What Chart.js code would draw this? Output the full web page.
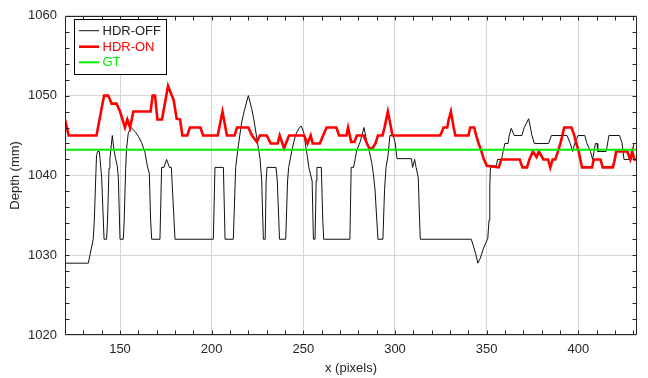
<!DOCTYPE html>
<html>
<head>
<meta charset="utf-8">
<script src="https://cdn.jsdelivr.net/npm/chart.js@4/dist/chart.umd.min.js"></script>
<style>
  html, body { margin: 0; padding: 0; background: #fff; }
  #wrap { width: 648px; height: 378px; position: relative; }
</style>
</head>
<body>
<div id="wrap"><canvas id="c"></canvas></div>
<script>
// ---- data ----
const seriesNames = ["HDR-OFF", "HDR-ON", "GT"];

const offX = [120,132.7,135.4,136,136.7,137.2,137.8,138.7,139.1,140,140.9,141.3,142.7,143.2,144,144.5,145.8,146.7,147.6,148.5,149.1,150,151.8,152.3,153.1,153.6,154.5,156,158.2,160,161.8,163.6,164.9,166,166.7,167.3,171.8,172.7,174,175.4,177,178,180,200.9,201.8,206.4,207.3,211.8,213.1,214.6,216.4,217.8,220,221.8,223,224.6,226.4,227.3,228.2,229.2,229.7,230.2,235.1,235.8,237,240.4,241.4,242,242.9,244.4,245.8,247.6,248.9,250.3,251.2,252.1,253,254.8,255.5,256.4,257,257.4,259.8,260.6,261.1,275.4,276.1,277.4,278.3,279.2,281,283.1,284.6,286,287.3,288.2,289.1,290.7,293.4,294.3,295.1,296.2,297.2,299,300.1,301.1,308.9,309.6,310.7,311.5,311.8,312.7,313.4,313.8,341.6,344,345.2,346.5,348.3,350.6,351.3,351.7,352,352.6,355.3,355.9,358.1,359,359.9,361.7,362.2,363.4,364.5,365,369.2,370.5,372.9,374.7,376,383.8,385.3,393.8,395.6,396.9,398,399.8,403.5,404.7,406.6,407.8,409.3,410.2,410.6,415.2,416.7,422.5,423.8,424.9,428.9,430.3,432];
const offY = [1029,1029,1032,1034.4,1039.3,1042.5,1043,1043,1042.1,1039.7,1034.4,1032,1032,1034.4,1040.9,1042.1,1045,1043.2,1042.1,1041.2,1039.7,1032,1032,1034.4,1040.9,1043.4,1045.3,1046,1045.5,1044.9,1044.1,1042.9,1041.2,1040.2,1034.4,1032,1032,1041,1041,1042,1041,1041,1032,1032,1041,1041,1032,1032,1041,1043.8,1046.7,1048.1,1050,1048.4,1047,1044.7,1042.1,1039.3,1032,1032,1039.3,1041,1041,1039.3,1032,1032,1039.3,1041,1042.1,1043.8,1045.1,1045.9,1046.2,1045.3,1043.8,1042.5,1041,1039.3,1032,1032,1039.3,1041,1041,1034.4,1032,1032,1041,1041,1042.1,1043.2,1044.2,1046,1044.2,1043,1041.6,1040.2,1038.2,1032,1032,1038.2,1041,1042.5,1045,1045,1044.1,1042.1,1042.1,1041,1042,1041,1041,1039.7,1034.4,1032,1032,1030.2,1029,1029.6,1030.9,1032.1,1034.4,1038.5,1040.8,1041.2,1041.2,1042,1042,1043,1044,1044,1044.9,1045.9,1045.3,1045,1045,1046,1047.1,1045,1044,1044,1045,1045,1044,1043,1044,1045,1045,1044,1043,1042,1044,1044,1043,1043,1045,1045,1044.1,1042,1042,1044,1044];

const onX = [120,121,122,137.2,141.3,143.6,145.4,148.1,150,152.7,154,155.5,157.3,166.7,167.8,169.1,170.4,172.9,176.2,179.3,180.9,182.8,184,186.7,188.1,193.9,195.3,203.3,205.9,208.3,212.5,213.8,220,222,224.6,226.3,230,232.2,236,237.1,239.5,242.2,250.4,252.3,254,255.1,259,260.8,262.7,268,269.5,273.5,274.4,276.1,277.9,279.2,282.9,284.7,286,287.8,289.3,290.7,293.2,294.3,296.1,297.4,298.6,324.7,326.5,328.5,329.3,330.5,332,332.9,340.1,341,343.2,344.3,345.6,346.9,348.3,350.1,356.6,358,368,369.5,372,373.3,375.2,377.2,378.5,380.9,383.5,384.7,386,387.4,388.9,390.2,391.3,392.3,396.3,397.8,398.9,400.2,401.1,402,407.5,408.4,412.1,413.3,418.8,419.9,420.6,426.7,428.3,429.4,430.5,432];
const onY = [1047,1046,1045,1045,1050,1050,1049,1049,1048,1046,1047,1046,1048,1048,1050,1050,1047,1047,1051.2,1049.4,1047.1,1047,1045,1045,1046,1046,1045,1045,1048,1045,1045,1046,1046,1045,1044.2,1045,1045,1044,1044,1045,1043.4,1045,1045,1044,1045,1044,1044,1045,1046,1046,1045,1045,1046,1044.2,1044.2,1045,1045,1044,1043.4,1043.4,1044,1045,1045,1046,1048,1046.5,1045,1045,1046,1046,1047,1048,1046,1045,1045,1046,1046,1045,1044,1043.2,1042.1,1041.2,1041,1042,1042,1041,1041,1042,1043,1042.3,1043,1042,1042,1041,1042,1042,1043,1044,1045,1046,1046,1045,1044,1043,1042,1041,1041,1042,1042,1041,1041,1042,1043,1043,1042,1043,1042,1042];

const gtX = [120, 432];
const gtY = [1043.2, 1043.2];

const xMin = 120, xMax = 432;
const yMin = 1020, yMax = 1060;
const xMajorTicks = [150, 200, 250, 300, 350, 400];
const yMajorTicks = [1020, 1030, 1040, 1050, 1060];
const xTitle = "x (pixels)";
const yTitle = "Depth (mm)";

const colors = ["#111111", "#ff0000", "#00f000"];
const widths = [1, 2.6, 2];

// ---- build ----
const toPts = (xs, ys) => xs.map((x, i) => ({ x: x, y: ys[i] }));
const FONT = "'Liberation Sans', Arial, Helvetica, sans-serif";
const AX = "#262626";

const frame = {
  id: "frame",
  afterDatasetsDraw(chart) {
    const { ctx, chartArea: a, scales } = chart;
    const xs = scales.x, ys = scales.y;
    ctx.save();
    ctx.strokeStyle = AX;
    ctx.lineWidth = 1;
    ctx.beginPath();
    const L = Math.round(a.left) + 0.5, R = Math.round(a.right) - 0.5;
    const T = Math.round(a.top) + 0.5, B = Math.round(a.bottom) - 0.5;
    ctx.rect(L, T, R - L, B - T);
    ctx.stroke();
    const tl = 4;
    ctx.beginPath();
    for (let v = xMin + 10; v < xMax; v += 10) {
      const p = Math.round(xs.getPixelForValue(v)) + 0.5;
      ctx.moveTo(p, B); ctx.lineTo(p, B - tl);
      ctx.moveTo(p, T); ctx.lineTo(p, T + tl);
    }
    for (let v = yMin + 2; v < yMax; v += 2) {
      const p = Math.round(ys.getPixelForValue(v)) + 0.5;
      ctx.moveTo(L, p); ctx.lineTo(L + tl, p);
      ctx.moveTo(R, p); ctx.lineTo(R - tl, p);
    }
    ctx.stroke();

    // legend box
    const bx = 74.5, by = 19.5, bw = 92, bh = 55;
    ctx.fillStyle = "#fff";
    ctx.fillRect(bx, by, bw, bh);
    ctx.strokeStyle = "#000";
    ctx.strokeRect(bx, by, bw, bh);
    ctx.font = "13px " + FONT;
    ctx.textBaseline = "middle";
    ctx.textAlign = "left";
    const rows = [30.7, 46.7, 62.3];
    chart.data.datasets.forEach((ds, i) => {
      const y = rows[i];
      ctx.strokeStyle = ds.borderColor;
      ctx.lineWidth = ds.borderWidth;
      ctx.beginPath();
      ctx.moveTo(79, y); ctx.lineTo(99, y);
      ctx.stroke();
      ctx.fillStyle = i === 0 ? "#222" : ds.borderColor;
      ctx.fillText(ds.label, 102.5, y + 0.5);
    });
    ctx.restore();
  }
};

new Chart(document.getElementById("c"), {
  type: "line",
  data: {
    datasets: [
      { label: seriesNames[0], data: toPts(offX, offY), borderColor: colors[0], borderWidth: widths[0], order: 3 },
      { label: seriesNames[1], data: toPts(onX, onY), borderColor: colors[1], borderWidth: widths[1], order: 2 },
      { label: seriesNames[2], data: toPts(gtX, gtY), borderColor: colors[2], borderWidth: widths[2], order: 1 }
    ]
  },
  options: {
    responsive: true,
    maintainAspectRatio: false,
    animation: false,
    devicePixelRatio: 1,
    layout: { padding: { top: 11, right: 11, left: 0, bottom: 0 } },
    elements: { point: { radius: 0 }, line: { tension: 0, fill: false } },
    plugins: { legend: { display: false }, tooltip: { enabled: false } },
    scales: {
      x: {
        type: "linear", min: xMin, max: xMax,
        afterBuildTicks: (s) => { s.ticks = xMajorTicks.map(v => ({ value: v })); },
        afterFit: (s) => { s.height = 43; },
        grid: { color: "#d6d6d6", lineWidth: 1, drawTicks: false },
        border: { display: false },
        ticks: { padding: 7, color: AX, font: { family: FONT, size: 13 }, maxRotation: 0, callback: (v) => String(v) },
        title: { display: true, text: xTitle, color: AX, font: { family: FONT, size: 13 }, padding: { top: 0, bottom: 2 } }
      },
      y: {
        type: "linear", min: yMin, max: yMax,
        afterBuildTicks: (s) => { s.ticks = yMajorTicks.map(v => ({ value: v })); },
        afterFit: (s) => { s.width = 65; },
        grid: { color: "#d6d6d6", lineWidth: 1, drawTicks: false },
        border: { display: false },
        ticks: { padding: 8, color: AX, font: { family: FONT, size: 13 }, callback: (v) => String(v) },
        title: { display: true, text: yTitle, color: AX, font: { family: FONT, size: 13 }, padding: { top: 8, bottom: 0 } }
      }
    }
  },
  plugins: [frame]
});
</script>
</body>
</html>
